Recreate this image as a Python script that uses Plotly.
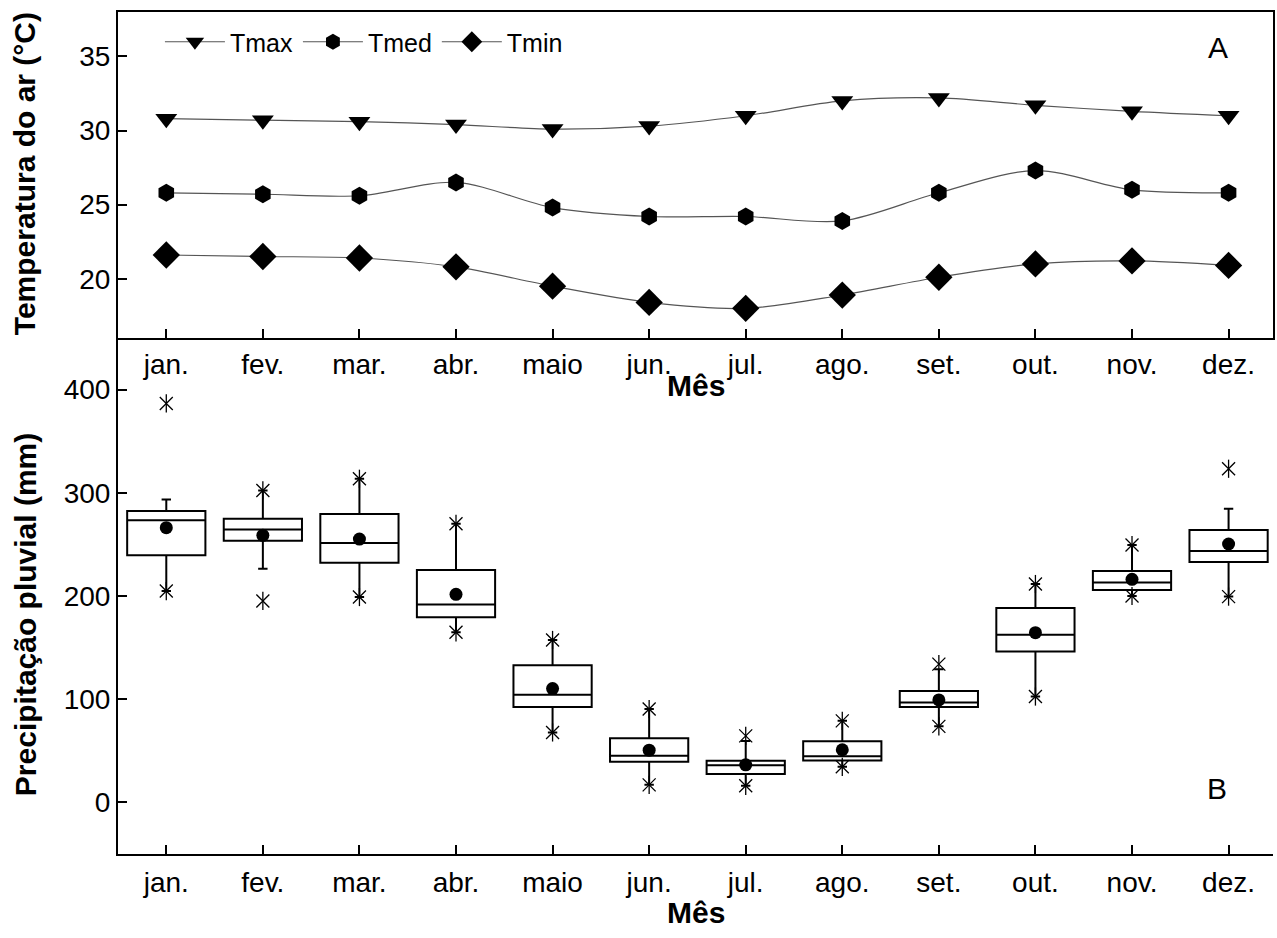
import plotly.graph_objects as go

months = ["jan.", "fev.", "mar.", "abr.", "maio", "jun.", "jul.", "ago.", "set.", "out.", "nov.", "dez."]
idx = list(range(len(months)))

# Panel A - air temperature (°C)
tmax = [30.8, 30.7, 30.6, 30.4, 30.1, 30.3, 31.0, 32.0, 32.2, 31.7, 31.3, 31.0]
tmed = [25.8, 25.7, 25.6, 26.5, 24.8, 24.2, 24.2, 23.9, 25.8, 27.3, 26.0, 25.8]
tmin = [21.6, 21.5, 21.4, 20.8, 19.5, 18.4, 18.0, 18.9, 20.1, 21.0, 21.2, 20.9]

# Panel B - rainfall (mm) box statistics
q1 = [239.4, 253.6, 232.3, 179.5, 92.5, 39.3, 27.4, 40.7, 92.5, 146.2, 205.8, 232.9]
median = [273.3, 264.5, 251.3, 191.7, 104.2, 45.1, 36.1, 44.8, 96.8, 162.5, 213.0, 243.6]
q3 = [282.3, 274.9, 279.4, 225.3, 132.9, 62.2, 40.3, 59.3, 108.0, 188.4, 224.2, 263.9]
lower_whisker = [204.8, 226.5, 199.0, 164.8, 67.8, 17.0, 16.1, 34.5, 73.7, 102.6, 200.0, 199.4]
upper_whisker = [293.6, 302.3, 313.6, 270.0, 157.4, 90.5, 59.6, 79.0, 129.0, 211.6, 249.4, 284.6]
mean = [266.2, 258.8, 255.2, 201.6, 110.3, 50.6, 36.4, 51.0, 99.3, 164.5, 216.2, 250.4]
max_val = [386.6, 302.3, 313.6, 270.0, 157.4, 90.5, 64.5, 79.0, 134.0, 211.6, 249.4, 323.3]
min_val = [204.8, 195.2, 199.0, 164.8, 67.8, 17.0, 16.1, 34.5, 73.7, 102.6, 200.0, 199.4]

FONT = "Liberation Sans, Arial, sans-serif"
W, H = 1277, 938
L, R, T, B = 118, 2, 12, 84
plot_h = H - T - B
split = (H - B - 338) / plot_h  # fraction for bottom panel


def px_x(px):
    return (px - L) / (W - L - R)


def px_y(py):
    return (H - B - py) / plot_h


fig = go.Figure()

line_style = dict(color="#555555", width=1.2, shape="spline", smoothing=0.9)
for name, vals, sym, size in [("Tmax", tmax, "triangle-down", 19),
                              ("Tmed", tmed, "hexagon", 18),
                              ("Tmin", tmin, "diamond", 21)]:
    fig.add_trace(go.Scatter(
        x=idx, y=vals, name=name, mode="lines+markers",
        line=line_style,
        marker=dict(symbol=sym, size=size, color="black", line=dict(width=0)),
        xaxis="x", yaxis="y"))

fig.add_trace(go.Box(
    x=idx, q1=q1, median=median, q3=q3,
    lowerfence=lower_whisker, upperfence=upper_whisker,
    width=0.81, whiskerwidth=0.12, boxpoints=False,
    line=dict(color="black", width=2), fillcolor="white",
    showlegend=False, xaxis="x2", yaxis="y2"))

fig.add_trace(go.Scatter(
    x=idx, y=mean, mode="markers", showlegend=False,
    marker=dict(symbol="circle", size=13, color="black"),
    xaxis="x2", yaxis="y2"))

for vals in (max_val, min_val):
    for sym in ("x-thin-open", "line-ns-open"):
        fig.add_trace(go.Scatter(
            x=idx, y=vals, mode="markers", showlegend=False,
            marker=dict(symbol=sym, size=13, color="black",
                        line=dict(width=1.3, color="black")),
            xaxis="x2", yaxis="y2"))

axis_common = dict(
    showline=True, linecolor="black", linewidth=2,
    ticks="inside", ticklen=9, tickwidth=2, tickcolor="black",
    showgrid=False, zeroline=False,
    tickfont=dict(family=FONT, size=28, color="black"),
)

fig.update_layout(
    width=W, height=H,
    margin=dict(l=L, r=R, t=T, b=B, pad=0),
    paper_bgcolor="white", plot_bgcolor="white",
    font=dict(family=FONT, color="black"),
    xaxis=dict(domain=[0, 1], anchor="y", range=[-0.5, 11.46],
               tickvals=idx, ticktext=months, mirror=True,
               ticklabelstandoff=0, **axis_common),
    yaxis=dict(domain=[split, 1], anchor="x", range=[16, 38],
               tickvals=[20, 25, 30, 35], mirror=True, **axis_common),
    xaxis2=dict(domain=[0, 1], anchor="y2", range=[-0.5, 11.46],
                tickvals=idx, ticktext=months,
                ticklabelstandoff=2, **axis_common),
    yaxis2=dict(domain=[0, split], anchor="x2", range=[-50, 450],
                tickvals=[0, 100, 200, 300, 400], **axis_common),
    legend=dict(orientation="h", x=px_x(160), y=px_y(42),
                xanchor="left", yanchor="middle",
                font=dict(family=FONT, size=25, color="black"),
                bgcolor="rgba(0,0,0,0)", itemwidth=60,
                tracegroupgap=0),
    showlegend=True,
)

annots = [
    dict(text="<b>Temperatura do ar (°C)</b>", x=px_x(25), y=px_y(174), textangle=-90, size=30),
    dict(text="<b>Precipitação pluvial (mm)</b>", x=px_x(25), y=px_y(615), textangle=-90, size=30),
    dict(text="<b>Mês</b>", x=0.5, y=px_y(385), textangle=0, size=30),
    dict(text="<b>Mês</b>", x=0.5, y=px_y(913), textangle=0, size=30),
    dict(text="A", x=px_x(1220), y=px_y(47), textangle=0, size=30),
    dict(text="B", x=px_x(1219), y=px_y(788), textangle=0, size=30),
]
for a in annots:
    fig.add_annotation(
        text=a["text"], x=a["x"], y=a["y"], xref="paper", yref="paper",
        xanchor="center", yanchor="middle", showarrow=False,
        textangle=a["textangle"],
        font=dict(family=FONT, size=a["size"], color="black"))

fig.write_html("out.html")
